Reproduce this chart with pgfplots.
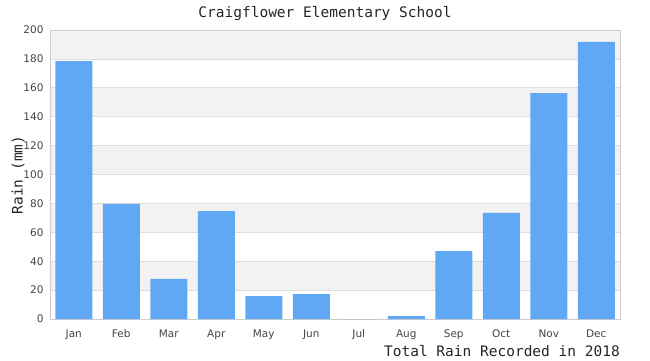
\documentclass[border=0pt]{standalone}
\usepackage{fontspec}
\setmainfont{DejaVu Sans}
\newfontfamily\monof{DejaVu Sans Mono}
\usepackage{pgfplots}
\pgfplotsset{compat=1.18}
\definecolor{barblue}{RGB}{96,168,244}
\definecolor{band}{RGB}{242,242,242}
\definecolor{gridc}{RGB}{221,221,221}
\definecolor{framec}{RGB}{204,204,204}
\definecolor{tickc}{RGB}{68,68,68}
\begin{document}
\begin{tikzpicture}
\begin{axis}[
  set layers,
  at={(50pt,41pt)}, anchor=south west,
  width=570pt, height=289pt, scale only axis,
  xmin=-0.5, xmax=11.5, ymin=0, ymax=200,
  ytick={0,20,...,200},
  xtick={0,...,11},
  xticklabels={Jan,Feb,Mar,Apr,May,Jun,Jul,Aug,Sep,Oct,Nov,Dec},
  ymajorgrids, grid style={draw=gridc, line width=0.8pt},
  axis line style={draw=framec, line width=0.8pt},
  tick style={draw=none},
  /pgf/number format/assume math mode=true,
  ticklabel style={font=\fontsize{10.5}{12}\selectfont, text=tickc},
  yticklabel style={xshift=-3pt},
  xticklabel style={yshift=-7pt},
]
\addplot[fill=band, draw=none, on layer=axis background, forget plot] coordinates {(-0.5,20) (11.5,20) (11.5,40) (-0.5,40) (-0.5,20)};
\addplot[fill=band, draw=none, on layer=axis background, forget plot] coordinates {(-0.5,60) (11.5,60) (11.5,80) (-0.5,80) (-0.5,60)};
\addplot[fill=band, draw=none, on layer=axis background, forget plot] coordinates {(-0.5,100) (11.5,100) (11.5,120) (-0.5,120) (-0.5,100)};
\addplot[fill=band, draw=none, on layer=axis background, forget plot] coordinates {(-0.5,140) (11.5,140) (11.5,160) (-0.5,160) (-0.5,140)};
\addplot[fill=band, draw=none, on layer=axis background, forget plot] coordinates {(-0.5,180) (11.5,180) (11.5,200) (-0.5,200) (-0.5,180)};
\addplot[ybar, bar width=37pt, fill=barblue, draw=none] coordinates {
(0,178.5) (1,79.6) (2,27.7) (3,74.7) (4,15.9) (5,17.3) (6,0) (7,2) (8,47) (9,73.4) (10,156.4) (11,191.7)};
\end{axis}
\node[font=\monof\fontsize{14.5}{16}\selectfont, text=black!85] at (325pt,346pt) {Craigflower Elementary School};
\node[font=\monof\fontsize{14.5}{16}\selectfont, text=black!85, anchor=base east, inner sep=0pt] at (620pt,4pt) {Total Rain Recorded in 2018};
\node[font=\monof\fontsize{14.5}{16}\selectfont, text=black!85, rotate=90] at (18pt,185pt) {Rain (mm)};
\pgfresetboundingbox
\useasboundingbox (0pt,0pt) rectangle (650pt,360pt);
\end{tikzpicture}
\end{document}
